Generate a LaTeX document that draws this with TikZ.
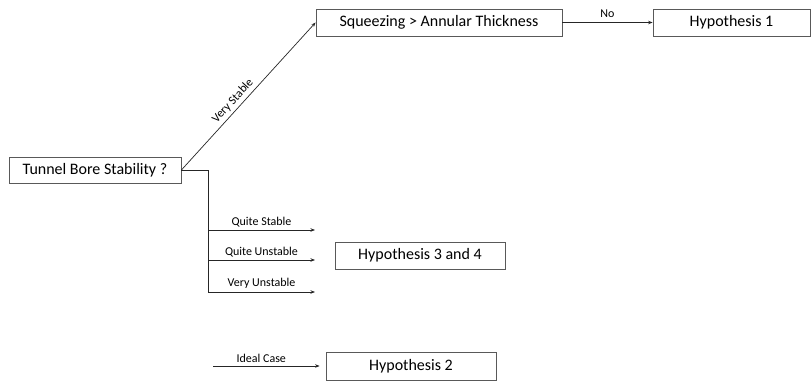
\documentclass[tikz,border=0pt]{standalone}
\usepackage{fontspec}
\setmainfont{Carlito}
\usetikzlibrary{arrows.meta}
\begin{document}
\begin{tikzpicture}[x=1pt,y=-1pt,
  box/.style={draw=black!65,line width=0.8pt,fill=white,inner sep=0pt,font=\fontsize{16}{19}\selectfont},
  conn/.style={draw=black!85,line width=0.7pt},
  arr/.style={conn,-{Stealth[length=4.5pt,width=3.5pt]}},
  lbl/.style={font=\fontsize{12}{14}\selectfont,inner sep=1pt}]
\useasboundingbox (0,0) rectangle (811,381);
\node[box,minimum width=172pt,minimum height=26pt] (tb) at (95,170) {Tunnel Bore Stability ?};
\node[box,minimum width=246pt,minimum height=27pt] (sq) at (439,22.5) {Squeezing > Annular Thickness};
\node[box,minimum width=157pt,minimum height=27pt] (h1) at (731.5,22.5) {Hypothesis 1};
\node[box,minimum width=170pt,minimum height=27pt] (h34) at (420,255.5) {Hypothesis 3 and 4};
\node[box,minimum width=170pt,minimum height=28pt] (h2) at (411,366) {Hypothesis 2};
\coordinate (e1) at (208,170);
\coordinate (e2) at (208,292);
\coordinate (b1) at (208,230);
\coordinate (b2) at (208,260);
\coordinate (t1) at (315,230);
\coordinate (t2) at (315,260);
\coordinate (t3) at (315,292);
\coordinate (ic) at (213,366);
\draw[arr] (tb.east) -- node[lbl,sloped,above=2pt,pos=0.43] {Very Stable} (sq.west);
\draw[arr] (sq.east) -- node[lbl,above=4pt] {No} (h1.west);
\draw[conn] (tb.east) -- (e1) -- (e2);
\draw[arr] (b1) -- node[lbl,above=2pt] {Quite Stable} (t1);
\draw[arr] (b2) -- node[lbl,above=2pt] {Quite Unstable} (t2);
\draw[arr] (e2) -- node[lbl,above=2pt] {Very Unstable} (t3);
\draw[arr,shorten >=6pt] (ic) -- node[lbl,above=2pt,xshift=-8pt] {Ideal Case} (h2.west);
\end{tikzpicture}
\end{document}
